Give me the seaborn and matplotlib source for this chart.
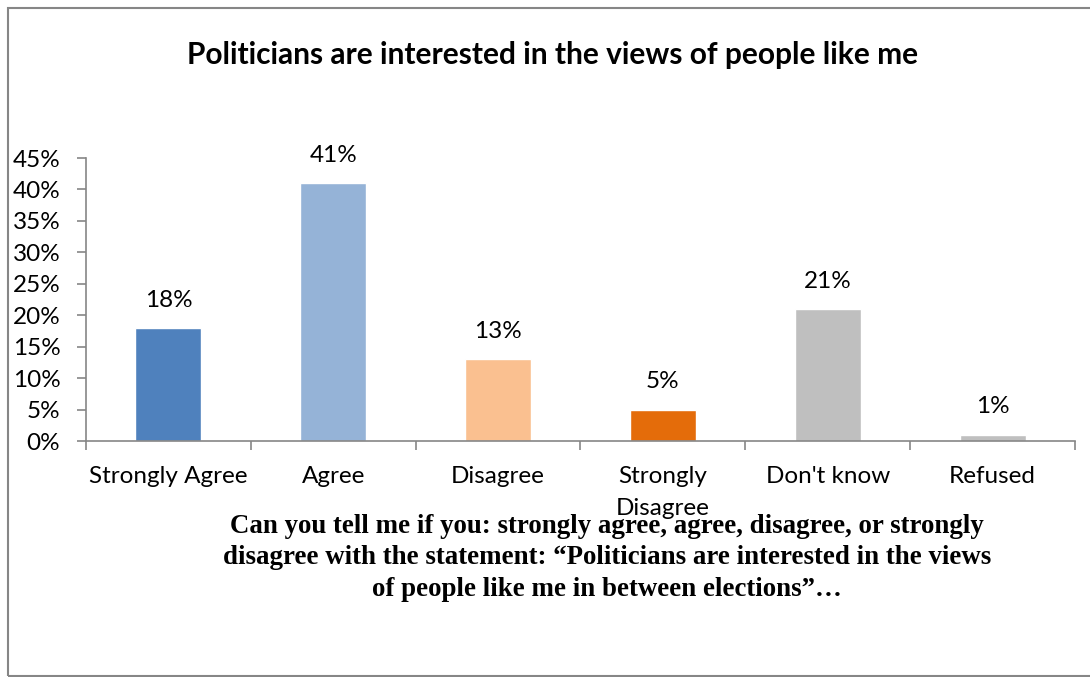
import matplotlib
matplotlib.use("Agg")
import matplotlib.pyplot as plt
import matplotlib.patches as mpatches
from matplotlib.ticker import FuncFormatter, FixedLocator
import seaborn as sns
import pandas as pd

categories = ["Strongly Agree", "Agree", "Disagree", "Strongly\nDisagree", "Don't know", "Refused"]
shares = [18, 41, 13, 5, 21, 1]
bar_colors = ["#4F81BD", "#95B3D7", "#FAC090", "#E46C0A", "#BFBFBF", "#BFBFBF"]
y_ticks = [0, 5, 10, 15, 20, 25, 30, 35, 40, 45]
title = "Politicians are interested in the views of people like me"
question = ("Can you tell me if you: strongly agree, agree, disagree, or strongly\n"
            "disagree with the statement: \u201cPoliticians are interested in the views\n"
            "of people like me in between elections\u201d\u2026")

sns.set_theme(style="white")
plt.rcParams["font.family"] = ["Lato", "DejaVu Sans"]

df = pd.DataFrame({"category": categories, "share": shares})

W, H = 1090, 677
fig = plt.figure(figsize=(W / 100, H / 100), dpi=100)
fig.patch.set_facecolor("white")

# outer chart frame
frame = mpatches.Rectangle((8 / W, 1 - 676 / H), 1.2, (676 - 8) / H,
                           transform=fig.transFigure, fill=False,
                           edgecolor="#868686", linewidth=1.5)
fig.patches.append(frame)

ax = fig.add_axes([86 / W, 1 - 441 / H, (1075 - 86) / W, (441 - 158) / H])
sns.barplot(data=df, x="category", y="share", hue="category",
            palette=bar_colors, width=0.4, legend=False, ax=ax, saturation=1)

ax.set_ylim(0, 45)
ax.set_xlim(-0.5, len(categories) - 0.5)
ax.yaxis.set_major_locator(FixedLocator(y_ticks))
ax.yaxis.set_major_formatter(FuncFormatter(lambda v, _: f"{v:.0f}%"))
ax.set_xlabel("")
ax.set_ylabel("")

for s in ["top", "right"]:
    ax.spines[s].set_visible(False)
for s in ["left", "bottom"]:
    ax.spines[s].set_color("#868686")
    ax.spines[s].set_linewidth(1.2)

label_size = 17.5
ax.tick_params(axis="y", which="major", left=True, length=6.5, width=1.2,
               color="#868686", labelsize=label_size, labelcolor="black", pad=12)
ax.tick_params(axis="x", which="major", bottom=False, labelsize=label_size,
               labelcolor="black", pad=12)
for lab in ax.get_xticklabels():
    lab.set_verticalalignment("top")
    lab.set_linespacing(1.62)

# category boundary ticks on the x axis
ax.set_xticks([i - 0.5 for i in range(len(categories) + 1)], minor=True)
ax.tick_params(axis="x", which="minor", bottom=True, length=6.5, width=1.2,
               color="#868686", direction="out")

for i, v in enumerate(shares):
    ax.annotate(f"{v}%", xy=(i, v), xytext=(0, 20), textcoords="offset points",
                ha="center", va="center", fontsize=label_size, color="black")

fig.text(553 / W, 1 - 55 / H, title, ha="center", va="center",
         fontsize=21.5, fontweight="bold", color="black")

fig.text(607 / W, 1 - 558 / H, question, ha="center", va="center",
         fontsize=19.4, fontweight="bold", color="black",
         family=["Liberation Serif", "DejaVu Serif"], linespacing=1.36)

fig.savefig("out.png", dpi=100, facecolor="white")
